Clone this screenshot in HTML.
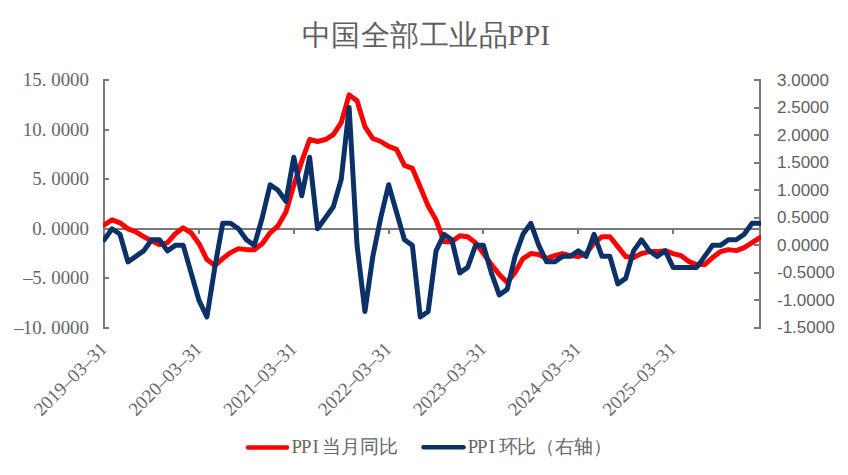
<!DOCTYPE html>
<html><head><meta charset="utf-8"><style>
html,body{margin:0;padding:0;background:#fff;width:848px;height:475px;overflow:hidden}
svg{display:block}
.ser{font-family:"Liberation Serif",serif}
.san{font-family:"Liberation Sans",sans-serif}
</style></head><body>
<svg width="848" height="475" viewBox="0 0 848 475">
<rect width="848" height="475" fill="#fff"/>

<text class="ser" y="44.5" font-size="29.3" fill="#606060"><tspan x="301.50 331.00 360.50 390.00 419.50 449.00 478.50">中国全部工业品</tspan><tspan x="507.6">PPI</tspan></text>
<g stroke="#7a7a7a" stroke-width="2" fill="none">
<path d="M104,79 V329"/>
<path d="M103,80 H109"/>
<path d="M103,130 H109"/>
<path d="M103,179 H109"/>
<path d="M103,229 H109"/>
<path d="M103,278 H109"/>
<path d="M103,328 H109"/>
<path d="M760,79 V329"/>
<path d="M754,80 H761"/>
<path d="M754,108 H761"/>
<path d="M754,135 H761"/>
<path d="M754,163 H761"/>
<path d="M754,190 H761"/>
<path d="M754,218 H761"/>
<path d="M754,245 H761"/>
<path d="M754,273 H761"/>
<path d="M754,300 H761"/>
<path d="M754,328 H761"/>
<path d="M104,229 H760"/>
<path d="M199,229 V234"/>
<path d="M294,229 V234"/>
<path d="M389,229 V234"/>
<path d="M483,229 V234"/>
<path d="M578,229 V234"/>
<path d="M673,229 V234"/>
</g>
<g class="ser" font-size="18.9" fill="#666666">
<text x="22.85" y="86.00">1</text>
<text x="32.30" y="86.00">5</text>
<text x="41.75" y="86.00">.</text>
<text x="51.20" y="86.00">0</text>
<text x="60.65" y="86.00">0</text>
<text x="70.10" y="86.00">0</text>
<text x="79.55" y="86.00">0</text>
<text x="22.85" y="135.60">1</text>
<text x="32.30" y="135.60">0</text>
<text x="41.75" y="135.60">.</text>
<text x="51.20" y="135.60">0</text>
<text x="60.65" y="135.60">0</text>
<text x="70.10" y="135.60">0</text>
<text x="79.55" y="135.60">0</text>
<text x="32.30" y="185.20">5</text>
<text x="41.75" y="185.20">.</text>
<text x="51.20" y="185.20">0</text>
<text x="60.65" y="185.20">0</text>
<text x="70.10" y="185.20">0</text>
<text x="79.55" y="185.20">0</text>
<text x="32.30" y="234.80">0</text>
<text x="41.75" y="234.80">.</text>
<text x="51.20" y="234.80">0</text>
<text x="60.65" y="234.80">0</text>
<text x="70.10" y="234.80">0</text>
<text x="79.55" y="234.80">0</text>
<text x="23.35" y="284.40">&#8211;</text>
<text x="32.30" y="284.40">5</text>
<text x="41.75" y="284.40">.</text>
<text x="51.20" y="284.40">0</text>
<text x="60.65" y="284.40">0</text>
<text x="70.10" y="284.40">0</text>
<text x="79.55" y="284.40">0</text>
<text x="13.90" y="334.00">&#8211;</text>
<text x="22.85" y="334.00">1</text>
<text x="32.30" y="334.00">0</text>
<text x="41.75" y="334.00">.</text>
<text x="51.20" y="334.00">0</text>
<text x="60.65" y="334.00">0</text>
<text x="70.10" y="334.00">0</text>
<text x="79.55" y="334.00">0</text>
</g>
<g class="san" font-size="17" fill="#5f5f5f">
<text x="777" y="85.90">3.0000</text>
<text x="777" y="113.37">2.5000</text>
<text x="777" y="140.84">2.0000</text>
<text x="777" y="168.31">1.5000</text>
<text x="777" y="195.78">1.0000</text>
<text x="777" y="223.25">0.5000</text>
<text x="777" y="250.72">0.0000</text>
<text x="777" y="278.19">-0.5000</text>
<text x="777" y="305.66">-1.0000</text>
<text x="777" y="333.13">-1.5000</text>
</g>
<g class="ser" font-size="18.9" fill="#666666">
<text x="-94.50 -85.05 -75.60 -66.15 -56.70 -47.25 -37.80 -28.35 -18.90 -9.45" y="0" transform="translate(108.20 350) rotate(-45)">2019&#8211;03&#8211;31</text>
<text x="-94.50 -85.05 -75.60 -66.15 -56.70 -47.25 -37.80 -28.35 -18.90 -9.45" y="0" transform="translate(203.01 350) rotate(-45)">2020&#8211;03&#8211;31</text>
<text x="-94.50 -85.05 -75.60 -66.15 -56.70 -47.25 -37.80 -28.35 -18.90 -9.45" y="0" transform="translate(297.83 350) rotate(-45)">2021&#8211;03&#8211;31</text>
<text x="-94.50 -85.05 -75.60 -66.15 -56.70 -47.25 -37.80 -28.35 -18.90 -9.45" y="0" transform="translate(392.64 350) rotate(-45)">2022&#8211;03&#8211;31</text>
<text x="-94.50 -85.05 -75.60 -66.15 -56.70 -47.25 -37.80 -28.35 -18.90 -9.45" y="0" transform="translate(487.46 350) rotate(-45)">2023&#8211;03&#8211;31</text>
<text x="-94.50 -85.05 -75.60 -66.15 -56.70 -47.25 -37.80 -28.35 -18.90 -9.45" y="0" transform="translate(582.27 350) rotate(-45)">2024&#8211;03&#8211;31</text>
<text x="-94.50 -85.05 -75.60 -66.15 -56.70 -47.25 -37.80 -28.35 -18.90 -9.45" y="0" transform="translate(677.09 350) rotate(-45)">2025&#8211;03&#8211;31</text>
</g>
<clipPath id="pc"><rect x="103" y="0" width="658" height="475"/></clipPath>
<g clip-path="url(#pc)">
<polyline points="104.20,224.83 112.10,219.87 120.00,222.85 127.90,228.80 135.80,231.78 143.71,236.74 151.61,240.70 159.51,244.67 167.41,242.69 175.31,233.76 183.21,227.81 191.11,232.77 199.01,243.68 206.92,259.55 214.82,265.50 222.72,258.56 230.62,252.61 238.52,248.64 246.42,249.63 254.32,249.63 262.22,243.68 270.13,232.77 278.03,225.82 285.93,211.94 293.83,185.15 301.73,161.34 309.63,139.52 317.53,141.50 325.43,139.52 333.33,134.56 341.24,122.66 349.14,94.88 357.04,100.83 364.94,126.62 372.84,138.53 380.74,141.50 388.64,146.46 396.54,149.44 404.45,165.31 412.35,168.29 420.25,187.14 428.15,205.98 436.05,219.87 443.95,241.70 451.85,241.70 459.75,235.74 467.66,236.74 475.56,242.69 483.46,253.60 491.36,264.51 499.26,274.43 507.16,282.37 515.06,272.45 522.96,258.56 530.87,253.60 538.77,254.59 546.67,258.56 554.57,255.58 562.47,253.60 570.37,255.58 578.27,256.58 586.17,253.60 594.07,242.69 601.98,236.74 609.88,236.74 617.78,246.66 625.68,256.58 633.58,257.57 641.48,253.60 649.38,251.62 657.28,251.62 665.19,250.62 673.09,253.60 680.99,255.58 688.89,261.54 696.79,264.51 704.69,264.51 712.59,257.57 720.49,251.62 728.40,249.63 736.30,250.62 744.20,247.65 752.10,242.69 760.00,237.73" fill="none" stroke="#ff0000" stroke-width="5" stroke-linejoin="round" stroke-linecap="round"/>
<polyline points="104.20,239.82 112.10,228.80 120.00,234.31 127.90,261.87 135.80,256.36 143.71,250.84 151.61,239.82 159.51,239.82 167.41,250.84 175.31,245.33 183.21,245.33 191.11,272.89 199.01,300.44 206.92,316.98 214.82,267.38 222.72,223.29 230.62,223.29 238.52,228.80 246.42,239.82 254.32,245.33 262.22,217.78 270.13,184.71 278.03,190.22 285.93,201.24 293.83,157.16 301.73,195.73 309.63,157.16 317.53,228.80 325.43,217.78 333.33,206.76 341.24,179.20 349.14,107.56 357.04,245.33 364.94,311.47 372.84,256.36 380.74,217.78 388.64,184.71 396.54,212.27 404.45,239.82 412.35,245.33 420.25,316.98 428.15,311.47 436.05,250.84 443.95,234.31 451.85,239.82 459.75,272.89 467.66,267.38 475.56,245.33 483.46,245.33 491.36,272.89 499.26,294.93 507.16,289.42 515.06,256.36 522.96,234.31 530.87,223.29 538.77,245.33 546.67,261.87 554.57,261.87 562.47,256.36 570.37,256.36 578.27,250.84 586.17,256.36 594.07,234.31 601.98,256.36 609.88,256.36 617.78,283.91 625.68,278.40 633.58,250.84 641.48,239.82 649.38,250.84 657.28,256.36 665.19,250.84 673.09,267.38 680.99,267.38 688.89,267.38 696.79,267.38 704.69,256.36 712.59,245.33 720.49,245.33 728.40,239.82 736.30,239.82 744.20,234.31 752.10,223.29 760.00,223.29" fill="none" stroke="#0c3169" stroke-width="5" stroke-linejoin="round" stroke-linecap="round"/>
</g>
<path d="M248,447.4 H287" stroke="#ff0000" stroke-width="4.5" stroke-linecap="round"/>
<path d="M423.5,447.3 H463.5" stroke="#0c3169" stroke-width="4.5" stroke-linecap="round"/>
<g class="ser" font-size="18.9" fill="#666666">
<text x="296.73" y="453.4" text-anchor="middle">P</text>
<text x="306.18" y="453.4" text-anchor="middle">P</text>
<text x="315.62" y="453.4" text-anchor="middle">I</text>
<text x="322.35" y="453.4">当</text>
<text x="341.25" y="453.4">月</text>
<text x="360.15" y="453.4">同</text>
<text x="379.05" y="453.4">比</text>
<text x="472.93" y="453.4" text-anchor="middle">P</text>
<text x="482.38" y="453.4" text-anchor="middle">P</text>
<text x="491.82" y="453.4" text-anchor="middle">I</text>
<text x="498.55" y="453.4">环</text>
<text x="517.45" y="453.4">比</text>
<text x="536.35" y="453.4">（</text>
<text x="555.25" y="453.4">右</text>
<text x="574.15" y="453.4">轴</text>
<text x="593.05" y="453.4">）</text>
</g>
</svg></body></html>
